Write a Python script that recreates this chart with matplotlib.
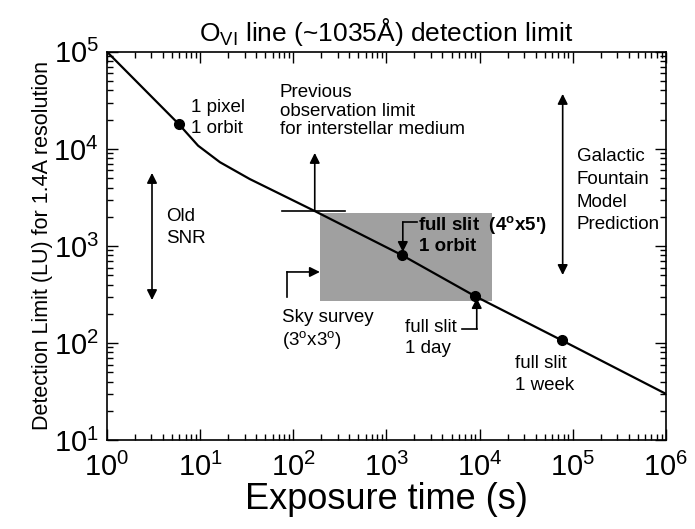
import matplotlib
matplotlib.use("Agg")
import matplotlib.pyplot as plt
from matplotlib.patches import Rectangle

plt.rcParams['font.family'] = ['Liberation Sans', 'DejaVu Sans']
plt.rcParams['mathtext.fontset'] = 'custom'
plt.rcParams['mathtext.rm'] = 'Liberation Sans'
plt.rcParams['mathtext.it'] = 'Liberation Sans'

# detection limit curve
exposure = [1, 5.9, 9.5, 16.3, 34, 170, 1460, 8900, 76000, 1e6]
limit = [1e5, 1.8e4, 1.08e4, 7300, 4900, 2290, 807, 305, 107, 30]

# marked observing cases
case_x = [5.9, 1460, 8900, 76000]
case_y = [1.8e4, 807, 305, 107]

# sky survey shaded region (x range, y range)
survey_x = [193, 13500]
survey_y = [271, 2180]

fig = plt.figure(figsize=(6.95, 5.29), dpi=100)
ax = fig.add_axes([0.154, 0.168, 0.804, 0.734])

ax.add_patch(Rectangle((survey_x[0], survey_y[0]), survey_x[1] - survey_x[0],
                       survey_y[1] - survey_y[0], facecolor='#a0a0a0',
                       edgecolor='none', zorder=1))

ax.plot(exposure, limit, color='black', lw=1.6, zorder=3)
ax.plot(case_x, case_y, 'o', color='black', ms=7, zorder=4)

ax.set_xscale('log')
ax.set_yscale('log')
ax.set_xlim(1, 1e6)
ax.set_ylim(10, 1e5)

ax.tick_params(which='both', direction='in', top=True, right=True, width=1)
ax.tick_params(which='major', length=8, labelsize=21)
ax.tick_params(axis='x', which='major', pad=9)
ax.tick_params(axis='y', which='major', pad=6)
ax.tick_params(which='minor', length=4)
for s in ax.spines.values():
    s.set_linewidth(1.2)

ax.set_title('O$_{\\mathdefault{VI}}$ line (~1035Å) detection limit', fontsize=19, pad=8)
ax.set_xlabel('Exposure time (s)', fontsize=26, labelpad=0)
ax.set_ylabel('Detection Limit (LU) for 1.4A resolution', fontsize=15.5, labelpad=0)

fs = 13.5
arr = dict(arrowstyle='-|>', color='black', lw=1.2, mutation_scale=15, shrinkA=0, shrinkB=0)
darr = dict(arrowstyle='<|-|>', color='black', lw=1.2, mutation_scale=15, shrinkA=0, shrinkB=0)

# 1 pixel 1 orbit
ax.text(7.97, 26500, '1 pixel', fontsize=fs, va='center', ha='left')
ax.text(7.97, 16100, '1 orbit', fontsize=fs, va='center', ha='left')

# Previous observation limit
ax.text(71.8, 37800, 'Previous', fontsize=fs, va='center', ha='left')
ax.text(71.8, 24100, 'observation limit', fontsize=fs, va='center', ha='left')
ax.text(71.8, 15700, 'for interstellar medium', fontsize=fs, va='center', ha='left')
ax.plot([75.5, 358], [2290, 2290], color='black', lw=1.2, zorder=3)
ax.annotate('', xy=(170, 9100), xytext=(170, 2290), arrowprops=arr)

# Old SNR
ax.annotate('', xy=(3.04, 5660), xytext=(3.04, 277), arrowprops=darr)
ax.text(4.3, 1990, 'Old', fontsize=fs, va='center', ha='left')
ax.text(4.3, 1208, 'SNR', fontsize=fs, va='center', ha='left')

# Galactic fountain
ax.annotate('', xy=(78100, 36900), xytext=(78100, 502), arrowprops=darr)
for txt, yy in zip(['Galactic', 'Fountain', 'Model', 'Prediction'],
                   [10 ** (5 - 105 / 97), 10 ** (5 - 128 / 97),
                    10 ** (5 - 151 / 97), 10 ** (5 - 173 / 97)]):
    ax.text(110000, yy, txt, fontsize=fs, va='center', ha='left')

# full slit 1 orbit
ax.plot([2120, 1500], [1766, 1766], color='black', lw=1.2, zorder=3)
ax.annotate('', xy=(1500, 867), xytext=(1500, 1766), arrowprops=arr)
ax.text(2170, 1645, "full slit  (4$^{\\mathdefault{o}}$x5')", fontsize=fs,
        va='center', ha='left', fontweight='bold')
ax.text(2220, 977, '1 orbit', fontsize=fs, va='center', ha='left', fontweight='bold')

# Sky survey
ax.plot([85.4, 85.4], [298, 540], color='black', lw=1.2, zorder=3)
ax.annotate('', xy=(193, 540), xytext=(85.4, 540), arrowprops=arr)
ax.text(75.5, 185, 'Sky survey', fontsize=fs, va='center', ha='left')
ax.text(75.5, 107, '(3$^{\\mathdefault{o}}$x3$^{\\mathdefault{o}}$)', fontsize=fs,
        va='center', ha='left')

# full slit 1 day
ax.plot([6440, 9330], [140, 140], color='black', lw=1.2, zorder=3)
ax.annotate('', xy=(9330, 291), xytext=(9330, 140), arrowprops=arr)
ax.text(1575, 146, 'full slit', fontsize=fs, va='center', ha='left')
ax.text(1600, 88.8, '1 day', fontsize=fs, va='center', ha='left')

# full slit 1 week
ax.text(23900, 62.2, 'full slit', fontsize=fs, va='center', ha='left')
ax.text(23900, 36.9, '1 week', fontsize=fs, va='center', ha='left')

fig.savefig('out.png', dpi=100)
